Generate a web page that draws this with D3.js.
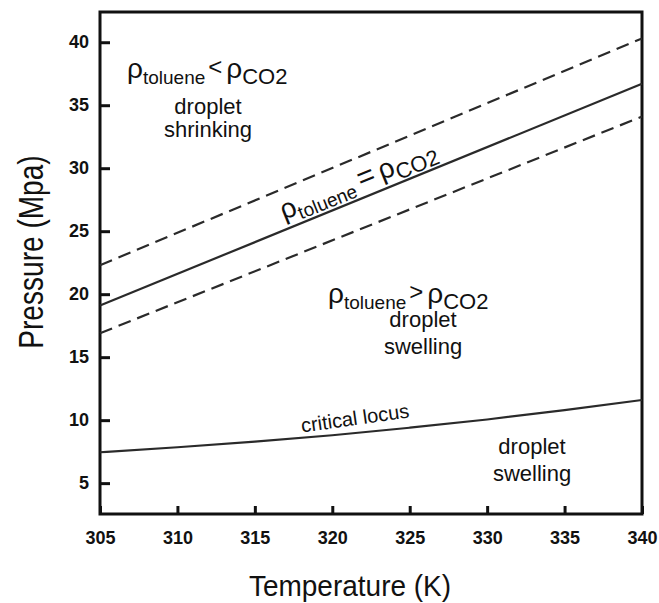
<!DOCTYPE html>
<html>
<head>
<meta charset="utf-8">
<script src="https://cdn.jsdelivr.net/npm/d3@7"></script>
<style>
  body { margin: 0; background: #fff; }
  svg { font-family: "Liberation Sans", Arial, sans-serif; }
</style>
</head>
<body>
<div id="chart"></div>
<script>
// data
const xTicks = [305, 310, 315, 320, 325, 330, 335, 340];
const yTicks = [5, 10, 15, 20, 25, 30, 35, 40];

const lineTemps = [305, 340];
const equalDensity = [19.1, 36.7];   // solid line
const upperBound = [22.3, 40.3];     // dashed above
const lowerBound = [16.9, 34.1];     // dashed below

const locusTemps = [305, 310, 315, 320, 325, 330, 335, 340];
const criticalLocus = [7.45, 7.85, 8.3, 8.8, 9.4, 10.05, 10.8, 11.6];

const w = 659;
const h = 603;

const xScale = d3.scaleLinear().domain([305, 340]).range([100, 642]);
const yScale = d3.scaleLinear().domain([2.55, 42.4]).range([514, 12]);

const svg = d3.select("#chart")
  .append("svg")
  .attr("width", w)
  .attr("height", h);

// axes (ticks point inward)
const yAxis = d3.axisLeft(yScale)
  .tickValues(yTicks)
  .tickSize(-10)
  .tickPadding(11);

const xAxis = d3.axisBottom(xScale)
  .tickValues(xTicks)
  .tickSize(-8)
  .tickPadding(17);

const gy = svg.append("g")
  .attr("transform", "translate(" + xScale(305) + ",0)")
  .call(yAxis);

const gx = svg.append("g")
  .attr("transform", "translate(0," + yScale(2.55) + ")")
  .call(xAxis);

[gx, gy].forEach(g => {
  g.select(".domain").remove();
  g.selectAll(".tick line").attr("stroke", "#111").attr("stroke-width", 3);
  g.selectAll(".tick text")
    .attr("fill", "#111")
    .attr("font-size", 18)
    .attr("font-weight", "bold");
});

// frame
svg.append("rect")
  .attr("x", xScale(305))
  .attr("y", yScale(42.4))
  .attr("width", xScale(340) - xScale(305))
  .attr("height", yScale(2.55) - yScale(42.4))
  .attr("fill", "none")
  .attr("stroke", "#111")
  .attr("stroke-width", 3);

// lines
const line = d3.line()
  .x(d => xScale(d[0]))
  .y(d => yScale(d[1]));

function drawLine(ts, ps, dashed, curve) {
  const pts = ts.map((t, i) => [t, ps[i]]);
  svg.append("path")
    .datum(pts)
    .attr("d", curve ? line.curve(d3.curveNatural)(pts) : line.curve(d3.curveLinear)(pts))
    .attr("fill", "none")
    .attr("stroke", "#2a2a2a")
    .attr("stroke-width", 2.2)
    .attr("stroke-dasharray", dashed ? "13,7" : null);
}

drawLine(lineTemps, upperBound, true, false);
drawLine(lineTemps, equalDensity, false, false);
drawLine(lineTemps, lowerBound, true, false);
drawLine(locusTemps, criticalLocus, false, true);

// rho labels
function rhoLabel(x, y, relation, angle) {
  const t = svg.append("text")
    .attr("transform", "translate(" + x + "," + y + ") rotate(" + (angle || 0) + ")")
    .attr("fill", "#111");
  t.append("tspan").attr("font-size", 28).text("ρ");
  t.append("tspan").attr("font-size", 19).attr("dy", 6).text("toluene");
  if (relation === "=") {
    t.append("tspan").attr("font-size", 30).attr("dy", -6).attr("dx", 5).text("=");
    t.append("tspan").attr("font-size", 28).attr("dx", 5).text("ρ");
  } else {
    t.append("tspan").attr("font-size", 24).attr("dy", -9).attr("dx", 3).text(relation);
    t.append("tspan").attr("font-size", 28).attr("dy", 3).attr("dx", 4).text("ρ");
  }
  t.append("tspan").attr("font-size", 22).attr("dy", 6).text("CO2");
}

rhoLabel(127, 78, "<", 0);
rhoLabel(328, 303, ">", 0);
rhoLabel(284, 220, "=", -22);

function centered(x, y, str, size, angle) {
  svg.append("text")
    .attr("transform", "translate(" + x + "," + y + ") rotate(" + (angle || 0) + ")")
    .attr("text-anchor", "middle")
    .attr("font-size", size)
    .attr("fill", "#111")
    .text(str);
}

centered(208, 114, "droplet", 22);
centered(208, 137, "shrinking", 22);
centered(423, 327, "droplet", 22);
centered(423, 354, "swelling", 22);
centered(532, 454, "droplet", 22);
centered(532, 481, "swelling", 22);
centered(356, 425, "critical locus", 20, -8);

// axis titles
svg.append("text")
  .attr("transform", "translate(350,596) scale(1,1.08)")
  .attr("text-anchor", "middle")
  .attr("font-size", 28)
  .attr("fill", "#111")
  .text("Temperature (K)");

svg.append("text")
  .attr("transform", "translate(43,252) rotate(-90) scale(0.78,1)")
  .attr("text-anchor", "middle")
  .attr("font-size", 36)
  .attr("fill", "#111")
  .text("Pressure (Mpa)");
</script>
</body>
</html>
